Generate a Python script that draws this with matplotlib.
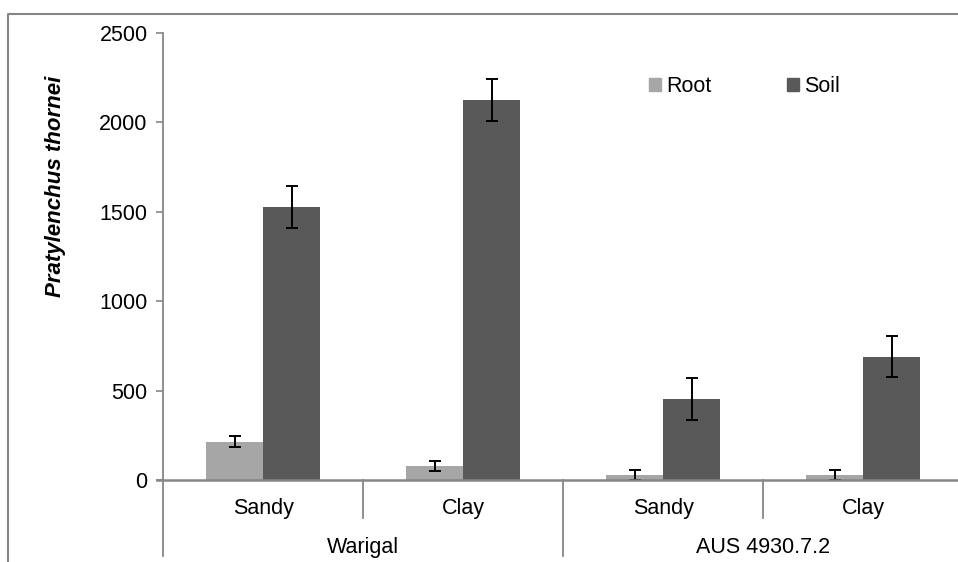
import matplotlib
matplotlib.use("Agg")
import matplotlib.pyplot as plt
from matplotlib.lines import Line2D
from matplotlib.patches import Patch

plt.rcParams['font.family'] = ['Liberation Sans', 'DejaVu Sans']

# data
cultivars = ["Warigal", "AUS 4930.7.2"]
soils = ["Sandy", "Clay", "Sandy", "Clay"]
root_mean = [215, 80, 28, 28]
root_err = [30, 28, 28, 28]
soil_mean = [1525, 2127, 452, 690]
soil_err = [118, 117, 117, 113]

W, H = 958, 562
fig = plt.figure(figsize=(W / 100, H / 100), dpi=100)
# axes: x 163..963 px (last category runs past the image edge), y 33..480 px
ax = fig.add_axes([163 / W, 1 - 480 / H, 800 / W, 447 / H])

grey = "#868686"
fs = 15.5

n = len(soils)
bw = 0.285
xr = [i + 0.5 - bw / 2 for i in range(n)]
xs = [i + 0.5 + bw / 2 for i in range(n)]
ax.bar(xr, root_mean, width=bw, color="#a6a6a6", zorder=2)
ax.bar(xs, soil_mean, width=bw, color="#595959", zorder=2)
ek = dict(fmt="none", ecolor="black", elinewidth=1.4, capsize=4.5, capthick=1.4, zorder=3)
ax.errorbar(xr, root_mean, yerr=root_err, **ek)
ax.errorbar(xs, soil_mean, yerr=soil_err, **ek)

ax.set_xlim(0, n)
ax.set_ylim(0, 2500)
ax.set_yticks([0, 500, 1000, 1500, 2000, 2500])
ax.tick_params(axis="y", direction="out", length=5, color=grey, width=1.2,
               labelsize=fs, pad=6)
ax.set_xticks([])
for s in ["top", "right", "bottom"]:
    ax.spines[s].set_visible(False)
ax.spines["left"].set_color(grey)
ax.spines["left"].set_linewidth(1.3)

# category axis with two levels
tr = ax.get_xaxis_transform()
ax.plot([-0.03, n], [0, 0], color=grey, lw=1.8, transform=tr, clip_on=False, zorder=4)
for i in range(n + 1):
    low = -0.17 if i % 2 == 0 else -0.085
    ax.plot([i, i], [0, low], color=grey, lw=1.3, transform=tr, clip_on=False)
for i, s in enumerate(soils):
    ax.text(i + 0.5, -0.063, s, transform=tr, ha="center", va="center", fontsize=fs)
for j, c in enumerate(cultivars):
    ax.text(2 * j + 1, -0.15, c, transform=tr, ha="center", va="center", fontsize=fs)

fig.text(55 / W, 1 - 186 / H, "Pratylenchus thornei", rotation=90, ha="center",
         va="center", fontsize=16, fontweight="bold", fontstyle="italic")

handles = [Patch(color="#a6a6a6", label="Root"), Patch(color="#595959", label="Soil")]
fig.legend(handles=handles, ncol=2, frameon=False, fontsize=fs,
           loc="center left", bbox_to_anchor=(630 / W, 1 - 87 / H),
           handlelength=0.55, handleheight=0.55, handletextpad=0.25, columnspacing=3.5)

# outer chart frame (cropped at right and bottom)
fig.add_artist(Line2D([8 / W, 8 / W, 1], [0, 1 - 14 / H, 1 - 14 / H],
                      transform=fig.transFigure, color=grey, lw=1.5))

fig.savefig("out.png", dpi=100)
